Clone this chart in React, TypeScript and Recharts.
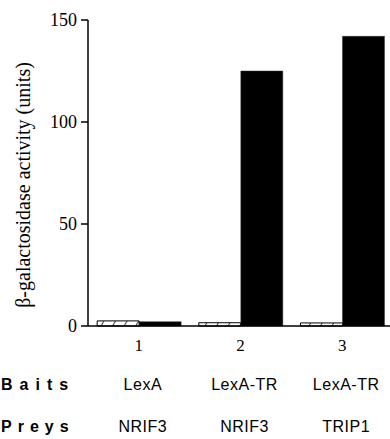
import React from "react";
import { BarChart, Bar, XAxis, YAxis } from "recharts";

const categories = ["1", "2", "3"];
const baits = ["LexA", "LexA-TR", "LexA-TR"];
const preys = ["NRIF3", "NRIF3", "TRIP1"];
const hatchedValues = [2.5, 1.6, 1.5];
const solidValues = [2.1, 125, 142];
const yTicks = [0, 50, 100, 150];

const data = categories.map((c, i) => ({
  cat: c,
  bait: baits[i],
  prey: preys[i],
  hatched: hatchedValues[i],
  solid: solidValues[i],
}));

const SERIF = '"Liberation Serif", "Times New Roman", serif';
const SANS = '"Liberation Sans", Arial, sans-serif';

const XTick = (props: any) => {
  const { x, y, index, payload } = props;
  const i = index ?? categories.indexOf(payload.value);
  return (
    <g>
      <text x={x} y={y + 17} textAnchor="middle" fontFamily={SERIF} fontSize={17} fill="#000">
        {payload.value}
      </text>
      <text x={x + 4} y={y + 56} textAnchor="middle" fontFamily={SANS} fontSize={16} fill="#000" letterSpacing={0.5}>
        {baits[i]}
      </text>
      <text x={x + 4} y={y + 98} textAnchor="middle" fontFamily={SANS} fontSize={16} fill="#000" letterSpacing={0.5}>
        {preys[i]}
      </text>
      {i === 0 && (
        <g>
          <text x={1} y={y + 56} fontFamily={SANS} fontSize={16} fontWeight="bold" fill="#000" letterSpacing={7}>
            Baits
          </text>
          <text x={1} y={y + 98} fontFamily={SANS} fontSize={16} fontWeight="bold" fill="#000" letterSpacing={6}>
            Preys
          </text>
        </g>
      )}
    </g>
  );
};

const YLabel = () => (
  <text
    x={30}
    y={185}
    transform="rotate(-90, 30, 185)"
    textAnchor="middle"
    fontFamily={SERIF}
    fontSize={20}
    fill="#000"
  >
    β-galactosidase activity (units)
  </text>
);

export default function App() {
  return (
    <div style={{ position: "absolute", left: 0, top: 0, width: 390, height: 439, overflow: "hidden", background: "#fff" }}>
      <BarChart
        width={394}
        height={439}
        data={data}
        margin={{ top: 20, right: 1, left: 0, bottom: 0 }}
        barCategoryGap="9%"
        barGap={0}
      >
        <defs>
          <pattern id="hatch" patternUnits="userSpaceOnUse" width="10" height="10" patternTransform="rotate(30)">
            <rect width="10" height="10" fill="#fff" />
            <line x1="0" y1="0" x2="0" y2="10" stroke="#000" strokeWidth="1.5" />
          </pattern>
        </defs>
        <XAxis
          dataKey="cat"
          height={113}
          tickLine={false}
          axisLine={{ stroke: "#000", strokeWidth: 1.5 }}
          tick={<XTick />}
          interval={0}
        />
        <YAxis
          width={88}
          domain={[0, 150]}
          ticks={yTicks}
          tickSize={7}
          tickMargin={4}
          axisLine={{ stroke: "#000", strokeWidth: 1.5 }}
          tickLine={{ stroke: "#000", strokeWidth: 1.5 }}
          tick={{ fill: "#000", fontFamily: SERIF, fontSize: 18 }}
          label={<YLabel />}
        />
        <Bar dataKey="hatched" fill="url(#hatch)" stroke="#000" strokeWidth={1} isAnimationActive={false} />
        <Bar dataKey="solid" fill="#000" stroke="#333" strokeWidth={0.5} isAnimationActive={false} />
      </BarChart>
    </div>
  );
}
